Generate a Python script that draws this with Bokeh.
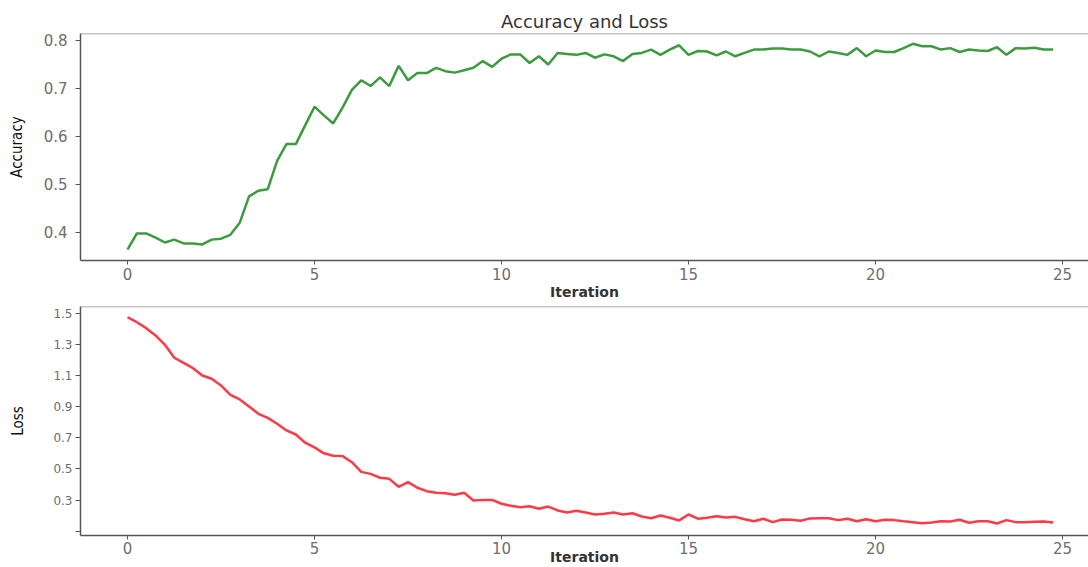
from bokeh.plotting import figure
from bokeh.models import FixedTicker, Range1d, Span
from bokeh.layouts import column
from bokeh.embed import file_html
from bokeh.resources import INLINE

title_text = "Accuracy and Loss"
x_label = "Iteration"
acc_label = "Accuracy"
loss_label = "Loss"

accuracy = [
    0.364, 0.398, 0.398, 0.389, 0.379, 0.385, 0.377, 0.377, 0.375, 0.385,
    0.387, 0.395, 0.420, 0.475, 0.487, 0.490, 0.549, 0.584, 0.584, 0.623,
    0.662, 0.644, 0.627, 0.660, 0.697, 0.717, 0.705, 0.723, 0.705, 0.747,
    0.717, 0.732, 0.732, 0.743, 0.736, 0.733, 0.738, 0.743, 0.757, 0.745,
    0.762, 0.771, 0.771, 0.753, 0.767, 0.750, 0.774, 0.772, 0.770, 0.774,
    0.764, 0.771, 0.767, 0.757, 0.772, 0.774, 0.781, 0.770, 0.781, 0.790,
    0.770, 0.778, 0.777, 0.769, 0.777, 0.767, 0.774, 0.781, 0.781, 0.783,
    0.783, 0.781, 0.781, 0.777, 0.767, 0.777, 0.774, 0.770, 0.784, 0.767,
    0.779, 0.776, 0.776, 0.784, 0.793, 0.788, 0.788, 0.781, 0.784, 0.776,
    0.781, 0.779, 0.778, 0.786, 0.770, 0.784, 0.783, 0.785, 0.781, 0.781,
]

loss = [
    1.474, 1.442, 1.404, 1.357, 1.297, 1.214, 1.181, 1.147, 1.100, 1.079,
    1.036, 0.976, 0.946, 0.901, 0.854, 0.828, 0.790, 0.747, 0.721, 0.668,
    0.638, 0.600, 0.584, 0.582, 0.543, 0.481, 0.468, 0.443, 0.436, 0.385,
    0.415, 0.379, 0.357, 0.347, 0.344, 0.334, 0.347, 0.297, 0.301, 0.301,
    0.276, 0.263, 0.254, 0.260, 0.244, 0.258, 0.233, 0.220, 0.231, 0.220,
    0.207, 0.212, 0.220, 0.207, 0.215, 0.194, 0.183, 0.201, 0.186, 0.169,
    0.207, 0.180, 0.186, 0.196, 0.188, 0.192, 0.177, 0.164, 0.180, 0.158,
    0.175, 0.173, 0.167, 0.182, 0.183, 0.183, 0.171, 0.180, 0.164, 0.177,
    0.164, 0.173, 0.171, 0.164, 0.158, 0.151, 0.156, 0.164, 0.162, 0.173,
    0.154, 0.164, 0.164, 0.149, 0.171, 0.158, 0.158, 0.160, 0.162, 0.156,
]

# four logged points per epoch
iteration = [i / 4 for i in range(len(accuracy))]

x_ticks = [0, 5, 10, 15, 20, 25]
acc_ticks = [0.4, 0.5, 0.6, 0.7, 0.8]
loss_ticks = [0.1, 0.3, 0.5, 0.7, 0.9, 1.1, 1.3, 1.5]

FONT = "DejaVu Sans"
NARROW = "'Liberation Sans Narrow', 'DejaVu Sans Condensed', sans-serif"
TICK_COLOR = "#6e6e6e"
SPINE = "#555555"


def style(p, ytick_size, ylab_standoff, ylab_tick_standoff, xlab_standoff):
    p.outline_line_color = None
    p.xgrid.visible = False
    p.ygrid.visible = False
    p.background_fill_color = "white"
    p.border_fill_color = "white"
    for ax in (p.xaxis[0], p.yaxis[0]):
        ax.axis_line_color = SPINE
        ax.axis_line_width = 1.5
        ax.major_tick_line_color = SPINE
        ax.major_tick_in = 0
        ax.minor_tick_line_color = None
        ax.major_label_text_color = TICK_COLOR
        ax.major_label_text_font = FONT
    xa = p.xaxis[0]
    xa.ticker = FixedTicker(ticks=x_ticks)
    xa.major_tick_out = 4
    xa.major_label_standoff = 3
    xa.major_label_text_font_size = "15px"
    xa.major_label_text_line_height = 1.0
    xa.axis_label = x_label
    xa.axis_label_text_font = FONT
    xa.axis_label_text_font_size = "14px"
    xa.axis_label_text_font_style = "bold"
    xa.axis_label_text_color = "#333333"
    xa.axis_label_text_line_height = 1.0
    xa.axis_label_standoff = xlab_standoff
    ya = p.yaxis[0]
    ya.major_tick_out = 5
    ya.major_label_standoff = ylab_tick_standoff
    ya.major_label_text_font_size = ytick_size
    ya.axis_label_text_font = NARROW
    ya.axis_label_text_font_size = "15px"
    ya.axis_label_text_font_style = "normal"
    ya.axis_label_text_color = "#111111"
    ya.axis_label_standoff = ylab_standoff
    top = Span(location=p.y_range.end, dimension="width",
               line_color="#8a8a8a", line_width=1.5)
    p.add_layout(top)


x_start, x_end = -1.257, 25.695

p1 = figure(width=1088, height=302, output_backend="svg", toolbar_location=None,
            x_range=Range1d(x_start, x_end), y_range=Range1d(0.3415, 0.8145),
            min_border_left=80, min_border_right=0, min_border_top=33,
            min_border_bottom=41, title=title_text)
p1.title.align = "center"
p1.title.text_font = FONT
p1.title.text_font_size = "18px"
p1.title.text_font_style = "normal"
p1.title.text_color = "#333333"
p1.title.standoff = 4
p1.line(iteration, accuracy, line_color="#3d9b3f", line_width=2.5)
style(p1, "15px", 15, 8, 1)
p1.yaxis[0].ticker = FixedTicker(ticks=acc_ticks)
p1.yaxis[0].axis_label = acc_label

p2 = figure(width=1088, height=265, output_backend="svg", toolbar_location=None,
            x_range=Range1d(x_start, x_end), y_range=Range1d(0.0722, 1.543),
            min_border_left=80, min_border_right=0, min_border_top=4,
            min_border_bottom=30)
p2.line(iteration, loss, line_color="#ff3a48", line_width=2.5)
style(p2, "12px", 23, 3, -8)
p2.xaxis[0].major_label_standoff = 2
p2.yaxis[0].ticker = FixedTicker(ticks=loss_ticks)
p2.yaxis[0].major_label_overrides = {0.1: ""}
p2.yaxis[0].axis_label = loss_label

layout = column(p1, p2, spacing=0)
open("out.html", "w").write(file_html(layout, INLINE))
